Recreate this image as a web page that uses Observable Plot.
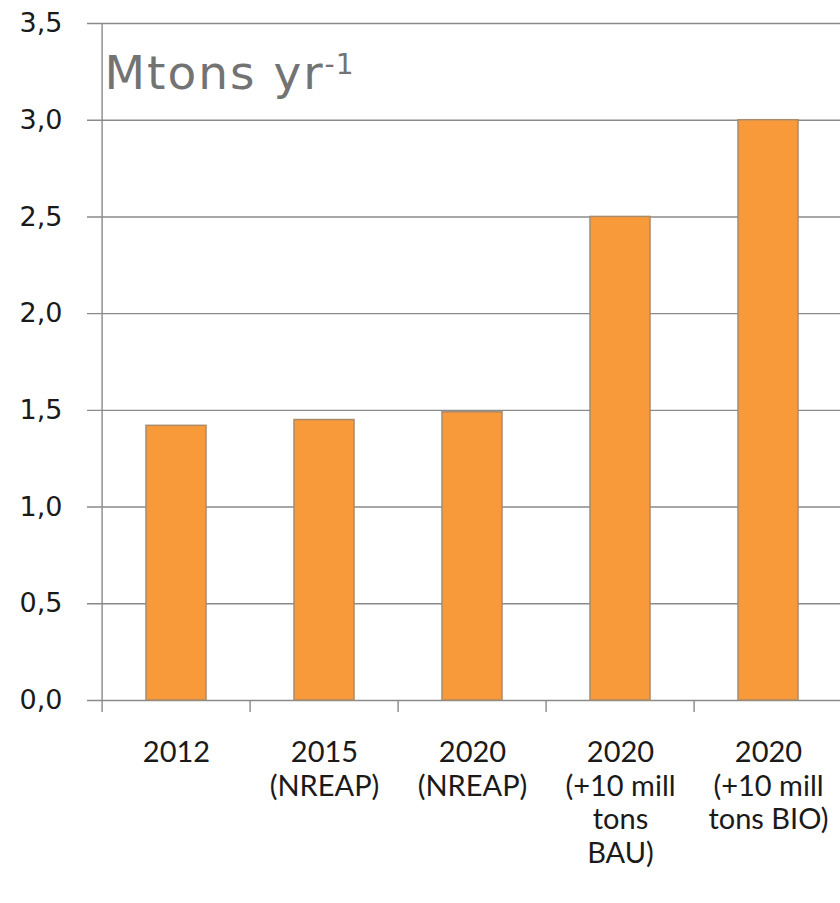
<!DOCTYPE html>
<html>
<head>
<meta charset="utf-8">
<script src="https://cdn.jsdelivr.net/npm/d3@7"></script>
<script src="https://cdn.jsdelivr.net/npm/@observablehq/plot@0.6"></script>
<style>
  html, body { margin: 0; padding: 0; background: #fff; overflow: hidden; }
  #chart svg { display: block; overflow: visible; }
</style>
</head>
<body>
<div id="chart"></div>
<script>
const categories = [
  "2012",
  "2015\n(NREAP)",
  "2020\n(NREAP)",
  "2020\n(+10 mill\ntons\nBAU)",
  "2020\n(+10 mill\ntons BIO)"
];
const values = [1.42, 1.45, 1.49, 2.5, 3.0];
const yTicks = [0, 0.5, 1.0, 1.5, 2.0, 2.5, 3.0, 3.5];
const unitLabel = "Mtons yr";
const unitSup = "-1";

const data = categories.map((c, i) => ({category: c, value: values[i]}));
const step = (844 - 100) / categories.length;

const chart = Plot.plot({
  width: 840,
  height: 903,
  marginLeft: 100,
  marginRight: 0,
  marginTop: 23,
  marginBottom: 203,
  x: {domain: categories, range: [100, 844], padding: 0, axis: null},
  y: {domain: [0, 3.5], axis: null},
  marks: [
    Plot.ruleY(yTicks, {y: d => d, stroke: "#8a8a8a", strokeWidth: 1.4, insetLeft: -13}),
    Plot.ruleX([categories[0]], {x: d => d, dx: -step / 2, y1: 0, y2: 3.5, stroke: "#8a8a8a", strokeWidth: 1.4}),
    Plot.barY(data, {x: "category", y: "value", insetLeft: 44, insetRight: 44, fill: "#f89a3a", stroke: "#a98b6c", strokeWidth: 1.5}),
    Plot.axisX({tickFormat: () => "", tickSize: 12, dx: -step / 2, stroke: "#8a8a8a", strokeWidth: 1.4, label: null}),
    Plot.axisX({tickSize: 0, tickPadding: 37, fontSize: 29, lineHeight: 1.17, fontFamily: "Lato", fill: "#1a1a1a", label: null}),
    Plot.axisY({ticks: yTicks, tickFormat: d => d.toFixed(1).replace(".", ","), tickSize: 0, tickPadding: 38, fontSize: 27, fontFamily: "DejaVu Sans", fill: "#1a1a1a", label: null}),
    Plot.text([unitLabel], {text: d => d, frameAnchor: "top-left", textAnchor: "start", lineAnchor: "bottom", dx: 4, dy: 65, fontSize: 47, fontFamily: "DejaVu Sans", fill: "#737373"})
  ]
});

d3.select(chart).selectAll('g[aria-label="text"] text')
  .filter(function() { return this.textContent === unitLabel; })
  .attr("letter-spacing", 2)
  .append("tspan")
  .attr("dy", -15)
  .attr("font-size", 28)
  .attr("letter-spacing", 1)
  .text(unitSup);

document.getElementById("chart").appendChild(chart);
</script>
</body>
</html>
